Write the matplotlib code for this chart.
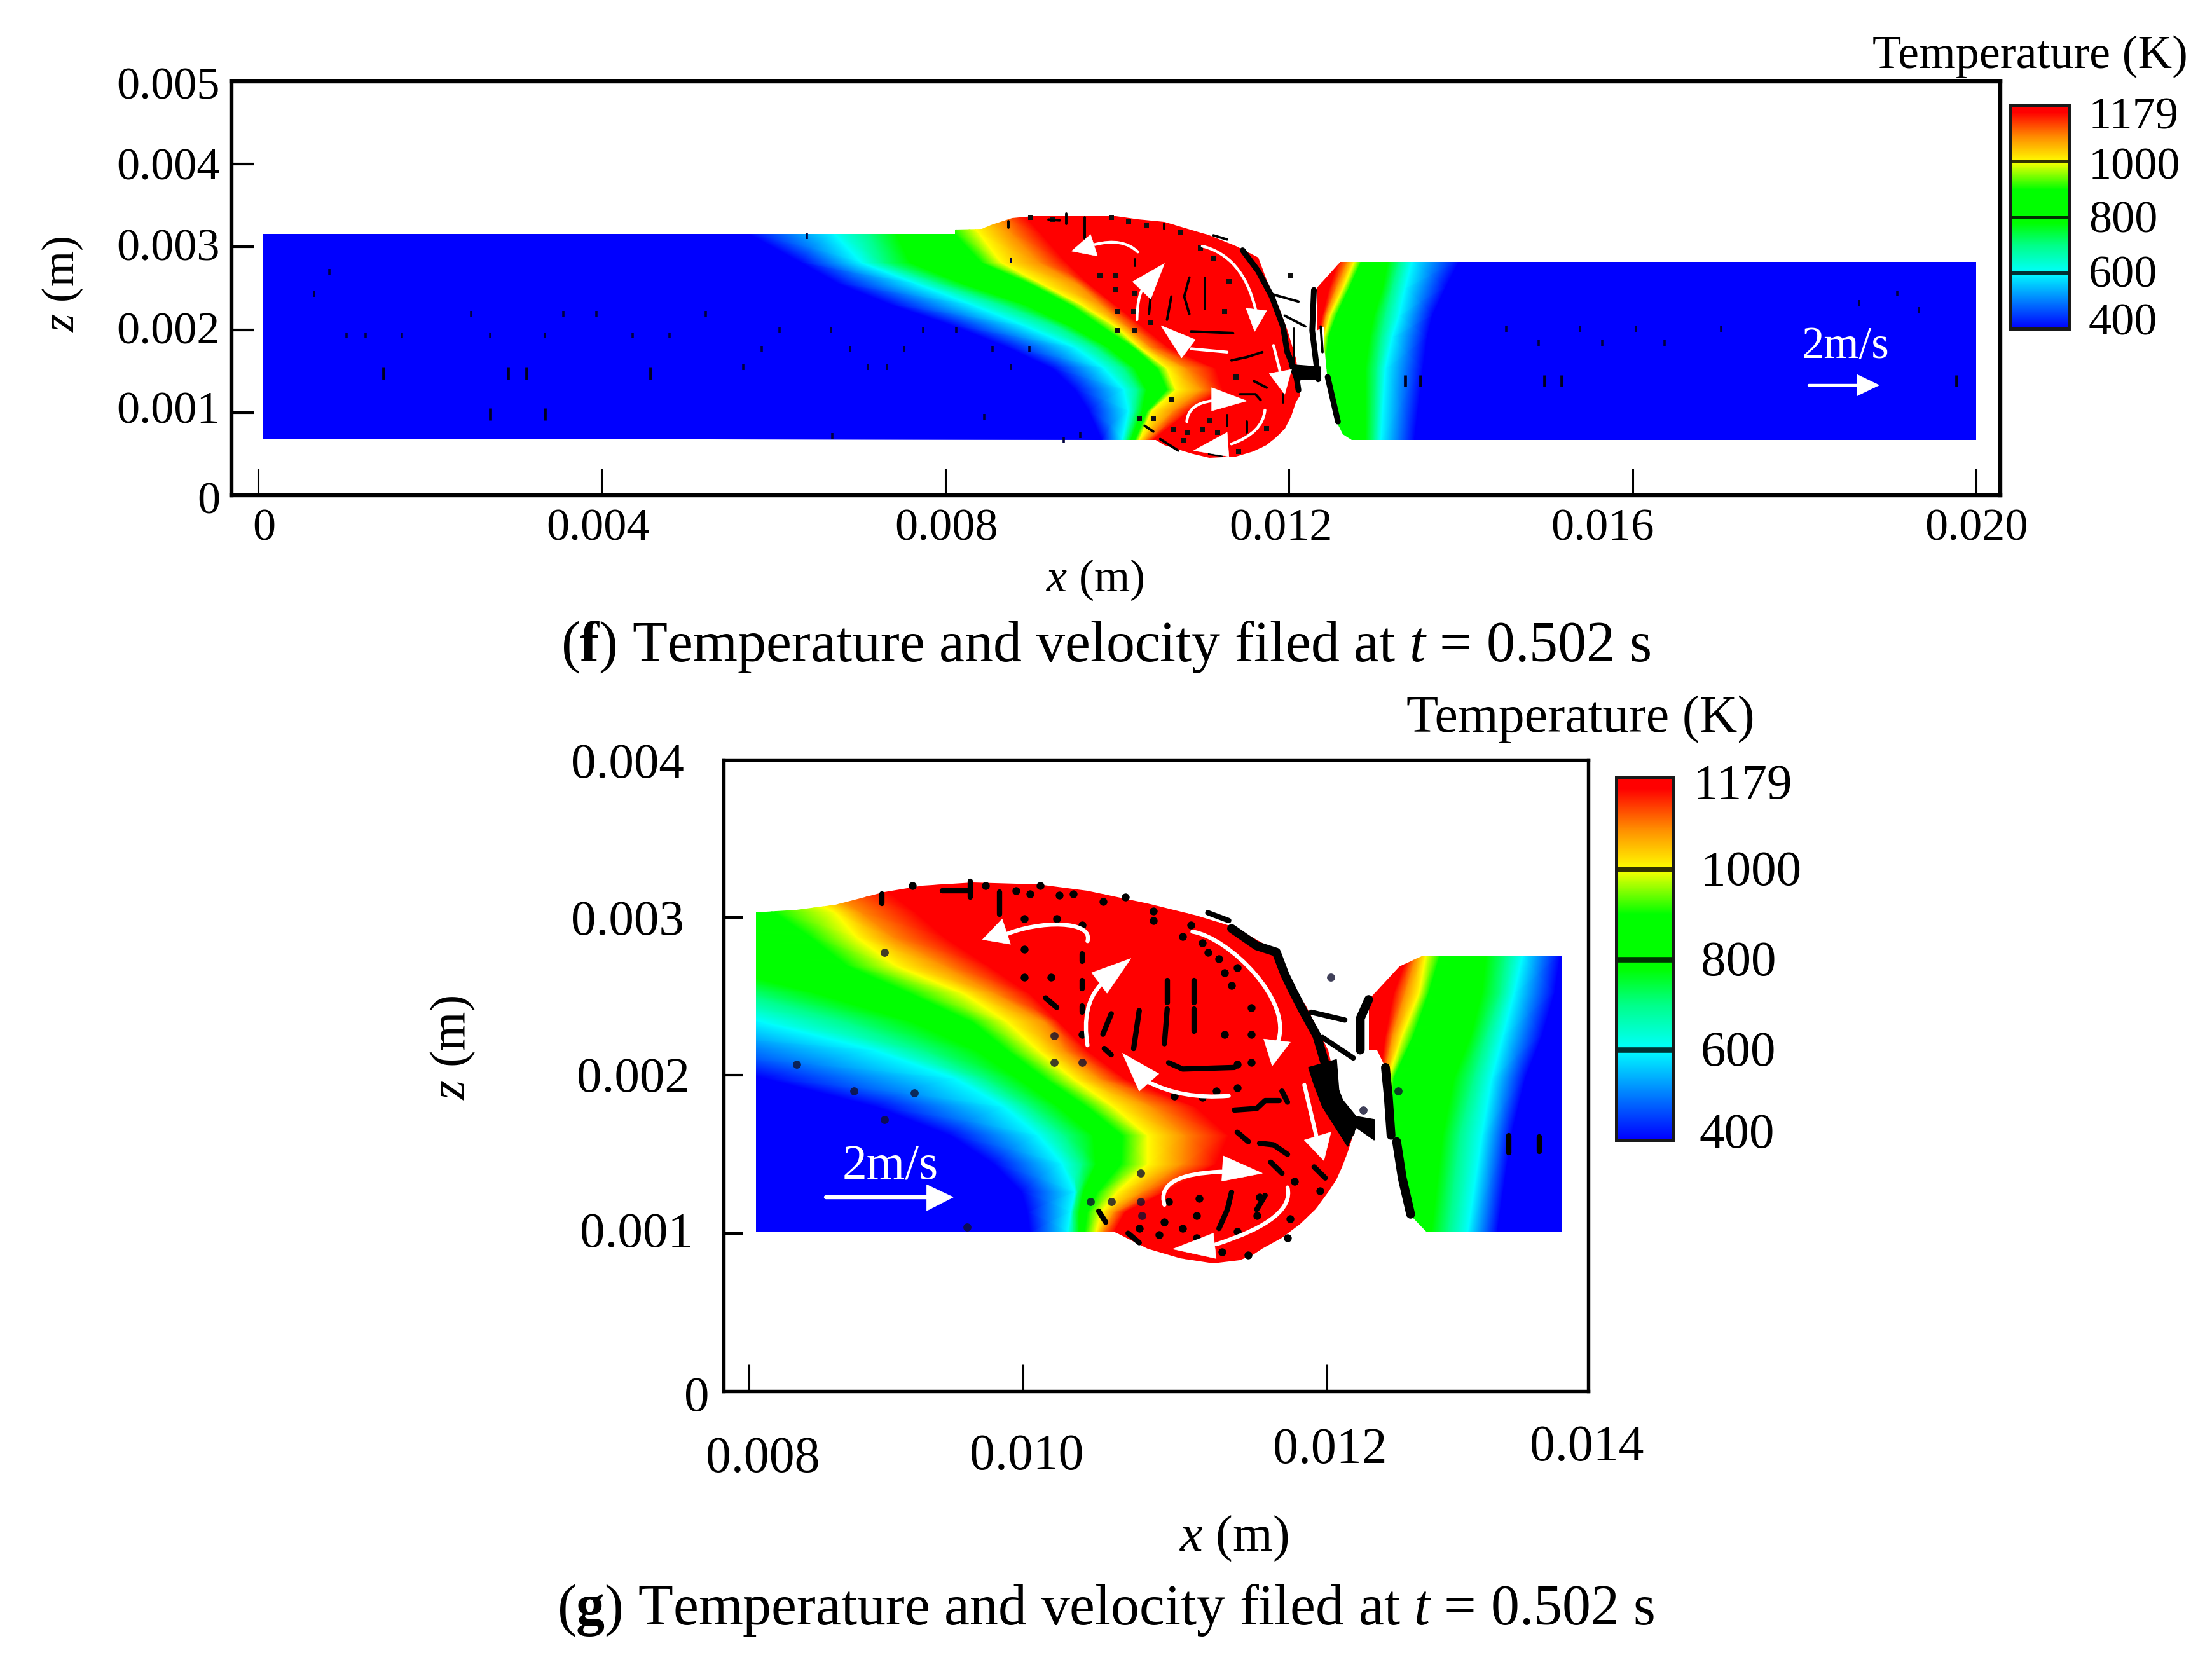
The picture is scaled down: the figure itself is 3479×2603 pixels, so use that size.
import numpy as np
import matplotlib
matplotlib.use("Agg")
import matplotlib.pyplot as plt
from matplotlib import colors
from matplotlib.patches import Polygon, PathPatch
from matplotlib.path import Path

plt.rcParams['font.family'] = ['Liberation Serif', 'DejaVu Serif']
plt.rcParams['mathtext.fontset'] = 'custom'
plt.rcParams['mathtext.rm'] = 'Liberation Serif'
plt.rcParams['mathtext.it'] = 'Liberation Serif:italic'
plt.rcParams['mathtext.bf'] = 'Liberation Serif:bold'

W, H = 3479, 2603
MM = 1e-3

# colour scale of both legends
cmap_levels = [400, 600, 700, 780, 900, 1000, 1090, 1179]
cmap_colors = ['#0000ff', '#00ffff', '#00ff88', '#00ff00', '#00ff00', '#ffff00', '#ff8c00', '#ff0000']
legend_ticks = [1000, 800, 600]

# all lengths below are in mm
# panel f, melt pool and left plate: x of each isotherm (cmap_levels) per z row
f_left_z = [3.40, 3.155, 2.81, 2.553, 2.297, 2.041, 1.785, 1.529, 1.273, 1.017, 0.671, 0.45]
f_left_x = [
    [5.40, 6.30, 6.70, 7.00, 7.90, 8.20, 8.60, 8.90],
    [5.72, 6.71, 7.12, 7.43, 8.11, 8.40, 8.78, 9.12],
    [6.32, 7.02, 7.28, 7.59, 8.42, 8.65, 9.10, 9.41],
    [6.76, 7.67, 7.95, 8.21, 8.99, 9.12, 9.54, 9.67],
    [7.38, 8.32, 8.68, 8.94, 9.46, 9.59, 9.82, 9.98],
    [8.11, 8.94, 9.30, 9.46, 9.82, 9.98, 10.11, 10.29],
    [8.73, 9.51, 9.75, 9.90, 10.19, 10.26, 10.39, 10.60],
    [9.25, 9.85, 10.08, 10.21, 10.47, 10.58, 10.81, 11.15],
    [9.51, 10.08, 10.24, 10.34, 10.58, 10.68, 10.99, 11.23],
    [9.67, 10.13, 10.21, 10.29, 10.35, 10.40, 10.65, 10.84],
    [9.82, 10.06, 10.11, 10.16, 10.21, 10.26, 10.34, 10.42],
    [9.90, 10.10, 10.15, 10.20, 10.25, 10.30, 10.35, 10.40],
]
f_right_z = [2.82, 2.50, 2.17, 1.91, 1.53, 0.67]
f_right_x = [
    [13.98, 13.43, 13.28, 13.15, 12.84, 12.76, 12.68, 12.57],
    [13.82, 13.35, 13.20, 13.09, 12.70, 12.63, 12.55, 12.47],
    [13.67, 13.28, 13.12, 12.99, 12.55, 12.48, 12.43, 12.39],
    [13.61, 13.20, 13.07, 12.94, 12.46, 12.41, 12.38, 12.34],
    [13.56, 13.12, 13.02, 12.89, 12.42, 12.37, 12.34, 12.32],
    [13.46, 13.07, 12.99, 12.89, 12.52, 12.37, 12.34, 12.32],
]
f_pool_outline = [(0.06, 3.155), (8.11, 3.16), (8.11, 3.21), (8.42, 3.22), (8.55, 3.27), (8.78, 3.35), (9.10, 3.38),
                  (9.93, 3.38), (10.24, 3.33), (10.55, 3.30), (11.07, 3.14), (11.38, 3.01), (11.64, 2.87), (11.74, 2.60),
                  (11.87, 2.30), (11.98, 1.99), (12.08, 1.66), (12.13, 1.32), (12.12, 1.20), (12.08, 1.12), (12.03, 0.96),
                  (11.95, 0.81), (11.86, 0.71), (11.74, 0.61), (11.58, 0.53), (11.38, 0.47), (11.07, 0.45), (10.86, 0.51),
                  (10.55, 0.61), (10.45, 0.67), (0.06, 0.68)]
f_plate_outline = [(12.32, 2.50), (12.60, 2.82), (20.0, 2.82), (20.0, 0.67), (12.73, 0.67), (12.63, 0.74),
                   (12.55, 0.89), (12.45, 1.40), (12.41, 1.79), (12.41, 2.04), (12.32, 1.99)]
f_faint_x = [0.83, 0.65, 2.48, 3.55, 3.94, 5.21, 1.03, 1.25, 1.67, 2.70, 3.34, 4.36, 4.79, 5.65, 5.86,
             6.07, 6.67, 7.74, 8.13, 6.89, 7.52, 8.55, 8.98, 7.10, 7.32, 8.76, 6.39, 8.76, 8.45, 6.68, 9.38, 9.57,
             14.53, 14.91, 15.39, 15.65, 16.04, 16.37, 17.03, 19.08, 19.33, 18.64]
f_faint_z = [2.70, 2.43, 2.19, 2.19, 2.19, 2.19, 1.935, 1.935, 1.935, 1.935, 1.935, 1.935, 1.935, 1.55, 1.77,
             1.99, 1.99, 1.99, 1.99, 1.77, 1.77, 1.77, 1.77, 1.55, 1.55, 1.55, 3.13, 2.84, 0.95, 0.72, 0.67, 0.73,
             2.01, 1.84, 2.01, 1.84, 2.01, 1.84, 2.01, 2.44, 2.24, 2.32]
f_big_x = [1.46, 2.91, 3.12, 4.57, 2.70, 3.34, 13.35, 13.53, 14.97, 15.17, 19.77]
f_big_z = [1.47, 1.47, 1.47, 1.47, 0.98, 0.98, 1.38, 1.38, 1.38, 1.38, 1.38]
f_dots_x = [8.99, 9.25, 9.93, 10.13, 10.34, 10.73, 10.97, 11.12, 9.80, 9.98, 9.98, 10.21, 11.30, 11.25, 10.19, 10.00,
            10.39, 10.00, 10.21, 11.38, 11.07, 10.81, 10.65, 10.99, 10.42, 10.26, 10.63, 11.17, 10.78, 11.41, 11.74, 12.02]
f_dots_z = [3.36, 3.33, 3.36, 3.31, 3.26, 3.17, 2.99, 2.86, 2.66, 2.66, 2.48, 2.44, 2.58, 2.22, 2.22, 2.22,
            2.09, 1.99, 1.99, 1.43, 0.91, 0.76, 0.79, 0.79, 0.93, 0.93, 1.15, 0.76, 0.66, 0.53, 0.81, 2.66]
f_streaks = [
    [(9.62, 3.36), (9.62, 3.10)], [(9.41, 3.40), (9.41, 3.28)], [(9.20, 3.33), (9.33, 3.32)], [(8.73, 3.31), (8.73, 3.23)],
    [(10.55, 3.28), (10.55, 3.22)], [(11.12, 3.14), (11.28, 3.09)], [(10.21, 2.85), (10.21, 2.77)],
    [(10.84, 2.63), (10.78, 2.40), (10.84, 2.19)], [(11.02, 2.63), (11.02, 2.40)], [(11.02, 2.40), (11.02, 2.25)],
    [(10.63, 2.40), (10.58, 2.12)], [(10.39, 2.40), (10.37, 2.19)], [(10.86, 1.98), (11.35, 1.96)],
    [(11.33, 1.63), (11.51, 1.67), (11.69, 1.73)], [(11.59, 1.38), (11.74, 1.30)],
    [(11.43, 1.22), (11.61, 1.22), (11.67, 1.15)], [(11.93, 1.22), (11.93, 1.12)], [(11.28, 0.97), (11.28, 0.84)],
    [(11.51, 0.89), (11.51, 0.76)], [(10.32, 0.84), (10.42, 0.77)], [(10.50, 0.68), (10.71, 0.54)], [(11.07, 0.50), (11.22, 0.48)],
    [(11.80, 2.43), (12.11, 2.34)], [(11.95, 2.17), (12.19, 2.04)], [(12.06, 2.01), (12.06, 1.58)],
    [(12.37, 2.04), (12.39, 1.73)],
]
f_edges = [
    [(11.46, 2.96), (11.64, 2.71), (11.80, 2.40), (11.93, 2.04), (11.98, 1.73), (12.08, 1.48), (12.11, 1.27)],
    [(12.29, 2.48), (12.27, 1.99), (12.34, 1.40)], [(12.45, 1.43), (12.57, 0.89)],
]
f_blob = [(12.00, 1.58), (12.37, 1.55), (12.37, 1.40), (12.13, 1.40), (12.11, 1.27)]
f_arrows = [
    ([(10.24, 2.94), (10.03, 3.05), (9.74, 3.03)], [(9.47, 2.95), (9.69, 3.15), (9.77, 2.89)]),
    ([(10.23, 2.12), (10.26, 2.40), (10.34, 2.55)], [(10.55, 2.80), (10.18, 2.58), (10.39, 2.37)]),
    ([(10.99, 3.01), (11.38, 2.76), (11.61, 2.25)], [(11.60, 1.98), (11.50, 2.26), (11.74, 2.23)]),
    ([(11.28, 1.73), (10.86, 1.77)], [(10.51, 2.05), (10.91, 1.88), (10.75, 1.66)]),
    ([(11.82, 1.81), (11.90, 1.48)], [(11.95, 1.22), (11.77, 1.47), (12.03, 1.52)]),
    ([(10.81, 0.89), (10.89, 1.06), (11.10, 1.14)], [(11.51, 1.14), (11.10, 1.30), (11.10, 1.02)]),
    ([(11.72, 1.03), (11.61, 0.79), (11.33, 0.62)], [(10.89, 0.54), (11.28, 0.76), (11.30, 0.47)]),
    ([(18.05, 1.33), (18.61, 1.33)], [(18.87, 1.33), (18.61, 1.46), (18.61, 1.20)]),
]

# panel g, same reading
g_left_z = [3.233, 3.027, 2.874, 2.694, 2.515, 2.335, 2.156, 1.977, 1.797, 1.618, 1.438, 1.259, 1.133, 1.007, 0.774]
g_left_x = [
    [2.00, 3.96, 4.74, 5.33, 7.68, 8.19, 8.46, 8.89],
    [3.10, 4.82, 5.52, 6.11, 8.19, 8.62, 8.81, 9.20],
    [3.83, 5.55, 6.24, 6.85, 8.44, 8.77, 9.03, 9.40],
    [4.69, 6.41, 7.10, 7.70, 8.70, 9.05, 9.40, 9.71],
    [5.55, 7.27, 7.97, 8.50, 9.16, 9.54, 9.77, 10.01],
    [6.41, 8.11, 8.71, 9.18, 9.60, 9.85, 10.12, 10.22],
    [7.27, 8.91, 9.26, 9.63, 9.85, 10.07, 10.26, 10.42],
    [8.13, 9.48, 9.69, 9.93, 10.12, 10.32, 10.51, 10.69],
    [8.92, 9.83, 10.01, 10.22, 10.42, 10.61, 10.89, 11.20],
    [9.44, 10.07, 10.26, 10.46, 10.67, 10.85, 11.12, 11.43],
    [9.75, 10.24, 10.38, 10.48, 10.66, 10.85, 11.10, 11.34],
    [9.95, 10.33, 10.35, 10.39, 10.49, 10.63, 10.81, 10.97],
    [9.99, 10.30, 10.32, 10.36, 10.42, 10.52, 10.61, 10.69],
    [10.01, 10.28, 10.32, 10.36, 10.40, 10.48, 10.53, 10.61],
    [9.99, 10.26, 10.30, 10.34, 10.38, 10.44, 10.50, 10.57],
]
g_right_z = [2.76, 2.52, 2.25, 1.98, 1.62, 1.01]
g_right_x = [
    [13.80, 13.53, 13.41, 13.27, 12.94, 12.84, 12.77, 12.71],
    [13.76, 13.47, 13.37, 13.24, 12.86, 12.79, 12.69, 12.61],
    [13.67, 13.39, 13.27, 13.16, 12.75, 12.67, 12.60, 12.55],
    [13.55, 13.31, 13.18, 13.04, 12.61, 12.57, 12.54, 12.51],
    [13.45, 13.24, 13.08, 12.96, 12.59, 12.57, 12.55, 12.53],
    [13.35, 13.14, 13.00, 12.88, 12.68, 12.57, 12.55, 12.53],
]
g_pool_outline = [(8.05, 3.03), (8.34, 3.05), (8.62, 3.08), (8.97, 3.16), (9.24, 3.20), (9.60, 3.22), (10.07, 3.21),
                  (10.42, 3.17), (10.85, 3.09), (11.20, 3.01), (11.47, 2.94), (11.75, 2.80), (11.83, 2.64), (11.98, 2.44),
                  (12.14, 2.16), (12.22, 1.87), (12.32, 1.62), (12.28, 1.52), (12.24, 1.42), (12.20, 1.34), (12.14, 1.26),
                  (12.05, 1.15), (11.94, 1.06), (11.81, 0.97), (11.67, 0.90), (11.60, 0.86), (11.51, 0.83), (11.32, 0.81),
                  (11.08, 0.84), (10.85, 0.90), (10.61, 1.01), (8.05, 1.01)]
g_plate_outline = [(12.43, 2.48), (12.65, 2.69), (12.82, 2.76), (13.81, 2.76), (13.81, 1.01), (12.84, 1.01), (12.71, 1.13),
                   (12.63, 1.44), (12.59, 1.80), (12.55, 2.05), (12.49, 2.16), (12.43, 2.16)]
g_faint_x = [8.34, 8.75, 9.18, 8.97, 8.97, 10.18, 10.38, 10.18, 10.80, 10.44, 10.59, 10.80, 10.81, 12.16, 12.64, 12.39, 9.56]
g_faint_z = [2.07, 1.90, 1.89, 1.72, 2.78, 2.08, 2.08, 2.25, 1.38, 1.20, 1.20, 1.20, 1.11, 2.62, 1.90, 1.78, 1.04]
g_dots_x = [9.97, 9.97, 10.16, 10.20, 9.97, 10.38, 10.38, 11.40, 11.59, 11.59, 11.45, 11.40, 11.49, 11.04, 11.24, 11.34, 11.49,
            11.59, 11.49, 11.90, 11.65, 11.22, 11.00, 11.20, 10.97, 10.79, 11.87, 11.63, 11.49, 11.10, 10.93, 11.20, 11.38,
            11.57, 11.85, 12.08, 10.89, 10.89, 10.69, 10.53, 10.32, 10.22, 10.01, 9.91, 9.69, 10.08, 9.17, 11.10, 11.24, 11.28,
            11.36, 11.16]
g_dots_z = [2.80, 2.62, 2.62, 2.99, 2.99, 2.95, 2.26, 2.26, 2.26, 2.43, 2.57, 2.65, 2.68, 1.87, 1.86, 1.90, 1.92,
            2.08, 2.07, 1.33, 1.23, 1.22, 1.20, 1.11, 1.07, 1.03, 1.09, 1.11, 1.01, 1.03, 0.99, 0.97, 0.88,
            0.86, 0.97, 1.27, 3.04, 2.98, 3.13, 3.10, 3.15, 3.14, 3.15, 3.17, 3.20, 3.20, 3.20, 2.88, 2.84, 2.78,
            2.74, 2.95]
g_streaks = [
    [(10.38, 2.77), (10.38, 2.72)], [(10.38, 2.60), (10.38, 2.55)], [(10.38, 2.44), (10.38, 2.40)], [(10.12, 2.49), (10.20, 2.43)],
    [(10.54, 2.17), (10.59, 2.13)], [(11.00, 2.08), (11.10, 2.04), (11.47, 2.05)],
    [(11.47, 1.78), (11.63, 1.79), (11.69, 1.84), (11.79, 1.84)], [(11.81, 1.90), (11.85, 1.83)], [(11.49, 1.64), (11.57, 1.58)],
    [(11.65, 1.57), (11.75, 1.56), (11.85, 1.50)], [(11.73, 1.45), (11.81, 1.38)], [(12.04, 1.42), (12.12, 1.35)],
    [(11.45, 1.26), (11.42, 1.15), (11.36, 1.03)], [(10.99, 2.60), (10.99, 2.46)], [(11.18, 2.60), (11.18, 2.46)],
    [(10.99, 2.42), (10.97, 2.20)], [(11.18, 2.42), (11.18, 2.28)], [(10.79, 2.41), (10.75, 2.17)], [(10.59, 2.39), (10.53, 2.26)],
    [(9.79, 3.16), (9.79, 3.02)], [(9.38, 3.17), (9.58, 3.17)], [(9.58, 3.23), (9.58, 3.13)], [(8.95, 3.15), (8.95, 3.09)],
    [(11.28, 3.03), (11.43, 2.98)], [(11.63, 1.15), (11.69, 1.24)], [(10.71, 1.00), (10.79, 0.94)], [(10.50, 1.14), (10.55, 1.07)],
    [(13.65, 1.61), (13.65, 1.52)], [(13.43, 1.62), (13.43, 1.51)],
    [(12.02, 2.40), (12.26, 2.35)], [(12.10, 2.24), (12.32, 2.11)],
]
g_edges = [
    [(11.45, 2.93), (11.63, 2.82), (11.77, 2.78), (11.83, 2.64), (11.89, 2.53), (11.96, 2.41), (12.06, 2.25), (12.14, 2.01),
     (12.22, 1.83), (12.30, 1.64)],
    [(12.43, 2.48), (12.37, 2.36), (12.37, 2.16)], [(12.55, 2.05), (12.57, 1.87), (12.59, 1.62)],
    [(12.63, 1.58), (12.67, 1.35), (12.73, 1.12)],
]
g_blob = [(12.00, 2.05), (12.20, 2.10), (12.22, 1.87), (12.34, 1.74), (12.47, 1.72), (12.47, 1.59), (12.34, 1.67), (12.28, 1.55),
          (12.10, 1.80), (12.04, 1.94)]
g_arrows = [
    ([(10.42, 2.85), (10.34, 2.94), (10.10, 2.95), (9.83, 2.89)], [(9.67, 2.86), (9.81, 2.99), (9.87, 2.83)]),
    ([(10.42, 2.19), (10.42, 2.41), (10.51, 2.57)], [(10.73, 2.74), (10.45, 2.65), (10.56, 2.52)]),
    ([(11.17, 2.91), (11.47, 2.77), (11.73, 2.50), (11.78, 2.21)], [(11.74, 2.06), (11.68, 2.23), (11.87, 2.21)]),
    ([(11.43, 1.87), (11.12, 1.88), (10.85, 1.96)], [(10.67, 2.14), (10.93, 2.01), (10.79, 1.90)]),
    ([(11.97, 1.94), (12.06, 1.60)], [(12.11, 1.46), (11.97, 1.59), (12.16, 1.64)]),
    ([(10.97, 1.18), (11.04, 1.33), (11.38, 1.39)], [(11.67, 1.38), (11.39, 1.49), (11.38, 1.33)]),
    ([(11.85, 1.29), (11.75, 1.10), (11.34, 0.93)], [(11.03, 0.90), (11.32, 1.00), (11.34, 0.84)]),
    ([(8.55, 1.228), (9.28, 1.228)], [(9.46, 1.228), (9.27, 1.308), (9.27, 1.142)]),
]

f_xticks = [0, 0.004, 0.008, 0.012, 0.016, 0.020]
f_zticks = [0.001, 0.002, 0.003, 0.004]
g_xticks = [0.008, 0.00996, 0.01213]
g_zticks = [0.001, 0.002, 0.003]

cmap = colors.LinearSegmentedColormap.from_list(
    'temp', [((l - 400) / 779, c) for l, c in zip(cmap_levels, cmap_colors)], N=1024)
norm = colors.Normalize(400, 1179)


def px_axes(fig, left, top, right, bottom):
    return fig.add_axes([left / W, 1 - bottom / H, (right - left) / W, (bottom - top) / H])


def px_text(fig, x, y, s, size, ha='center', rotation=0):
    # va center sits a little high for this font
    if rotation == 0:
        y = y + 6
    fig.text(x / W, 1 - y / H, s, fontsize=size, ha=ha, va='center', rotation=rotation, color='black')


def draw_field(ax, z_rows, x_rows, levels, outline):
    x = np.array(x_rows) * MM
    z = np.repeat(np.array(z_rows)[:, None] * MM, x.shape[1], axis=1)
    t = np.tile(levels, (x.shape[0], 1))
    mesh = ax.pcolormesh(x, z, t, cmap=cmap, norm=norm, shading='gouraud', zorder=2)
    mesh.set_clip_path(Polygon(np.array(outline) * MM, transform=ax.transData))


def curve_path(pts):
    p = np.array(pts, dtype=float) * MM
    if len(p) == 2:
        return Path(p, [Path.MOVETO, Path.LINETO])
    if len(p) == 3:
        ctrl = 2 * p[1] - 0.5 * (p[0] + p[2])
        return Path([p[0], ctrl, p[2]], [Path.MOVETO, Path.CURVE3, Path.CURVE3])
    c1 = (-5 * p[0] + 18 * p[1] - 9 * p[2] + 2 * p[3]) / 6
    c2 = (2 * p[0] - 9 * p[1] + 18 * p[2] - 5 * p[3]) / 6
    return Path([p[0], c1, c2, p[3]], [Path.MOVETO, Path.CURVE4, Path.CURVE4, Path.CURVE4])


def draw_arrows(ax, arrows, lw):
    for line, head in arrows:
        ax.add_patch(PathPatch(curve_path(line), fc='none', ec='white', lw=lw, zorder=6, capstyle='round'))
        ax.add_patch(Polygon(np.array(head) * MM, fc='white', ec='white', lw=0.5, zorder=6))


def draw_lines(ax, lines, lw):
    for line in lines:
        p = np.array(line) * MM
        ax.plot(p[:, 0], p[:, 1], color='black', lw=lw, zorder=4, solid_capstyle='round')


def style_axes(ax, xlim, zlim, xticks, zticks, spine, xlen, zlen):
    ax.set_xlim(xlim)
    ax.set_ylim(zlim)
    ax.set_xticks(xticks)
    ax.set_yticks(zticks)
    ax.tick_params(axis='x', direction='in', length=xlen, width=2.2, labelbottom=False)
    ax.tick_params(axis='y', direction='in', length=zlen, width=3, labelleft=False)
    for s in ax.spines.values():
        s.set_linewidth(spine)
        s.set_zorder(8)


def draw_legend(fig, left, top, right, bottom, border, line):
    cax = px_axes(fig, left, top, right, bottom)
    grad = np.linspace(400, 1204, 512)[:, None]
    cax.imshow(grad, origin='lower', extent=[0, 1, 400, 1204], aspect='auto', cmap=cmap, norm=norm)
    cax.hlines(legend_ticks, 0, 1, color='black', lw=line, alpha=0.8)
    cax.set_xticks([])
    cax.set_yticks([])
    for s in cax.spines.values():
        s.set_linewidth(border)
        s.set_color('#1a1a1a')


fig = plt.figure(figsize=(W / 100, H / 100), dpi=100, facecolor='white')

left_levels = [400, 400, 600, 700, 780, 900, 1000, 1090, 1179, 1179]
right_levels = left_levels[::-1]


def with_ends(rows, first, last):
    return [[first] + list(r) + [last] for r in rows]


# panel f
ax = px_axes(fig, 363.5, 128, 3146, 779)
draw_field(ax, f_left_z, with_ends(f_left_x, 0.0, 12.6), left_levels, f_pool_outline)
draw_field(ax, f_right_z, [[12.0] + r[::-1] + [20.1] for r in f_right_x], right_levels, f_plate_outline)
ax.vlines(np.array(f_faint_x) * MM, (np.array(f_faint_z) - 0.035) * MM, (np.array(f_faint_z) + 0.035) * MM,
          color='#000040', lw=2.6, zorder=3)
ax.vlines(np.array(f_big_x) * MM, (np.array(f_big_z) - 0.07) * MM, (np.array(f_big_z) + 0.07) * MM,
          color='#000020', lw=3.4, zorder=3)
ax.scatter(np.array(f_dots_x) * MM, np.array(f_dots_z) * MM, s=30, marker='s', color='#111111', lw=0, zorder=3)
draw_lines(ax, f_streaks, 2.8)
draw_lines(ax, f_edges, 6.5)
ax.add_patch(Polygon(np.array(f_blob) * MM, fc='black', ec='black', lw=1, zorder=4))
draw_arrows(ax, f_arrows, 3.2)
ax.text(18.48 * MM, 1.79 * MM, '2m/s', color='white', fontsize=51, ha='center', va='center', zorder=7)
style_axes(ax, (-0.315 * MM, 20.28 * MM), (0, 0.005), f_xticks, f_zticks, 4.6, 30, 25)

# panel g
ax = px_axes(fig, 1137.5, 1194.6, 2498, 2188)
draw_field(ax, g_left_z, with_ends(g_left_x, 1.0, 12.6), left_levels, g_pool_outline)
draw_field(ax, g_right_z, [[12.0] + r[::-1] + [14.0] for r in g_right_x], right_levels, g_plate_outline)
ax.scatter(np.array(g_faint_x) * MM, np.array(g_faint_z) * MM, s=85, marker='o', color='#101030', alpha=0.8, lw=0, zorder=3)
ax.scatter(np.array(g_dots_x) * MM, np.array(g_dots_z) * MM, s=80, marker='o', color='black', lw=0, zorder=3)
draw_lines(ax, g_streaks, 6.0)
draw_lines(ax, g_edges, 10.0)
ax.add_patch(Polygon(np.array(g_blob) * MM, fc='black', ec='black', lw=1, zorder=4))
draw_arrows(ax, g_arrows, 4.6)
ax.text(9.01 * MM, 1.42 * MM, '2m/s', color='white', fontsize=56, ha='center', va='center', zorder=7)
style_axes(ax, (7.816 * MM, 14.0 * MM), (0, 0.004), g_xticks, g_zticks, 3.9, 30, 22)

draw_legend(fig, 3162, 165, 3255, 517, 3.6, 3.6)
draw_legend(fig, 2542, 1222, 2632, 1793, 3.6, 6.2)

# panel f text
for s, y in zip(['0.005', '0.004', '0.003', '0.002', '0.001', '0'], [132, 259, 386, 517, 642, 784]):
    px_text(fig, 346, y, s, 52, ha='right')
for s, x in zip(['0', '0.004', '0.008', '0.012', '0.016', '0.020'], [415, 941, 1489, 2015, 2520, 3108]):
    px_text(fig, x, 826, s, 52)
px_text(fig, 1722, 906, r'$\mathit{x}$ (m)', 52)
px_text(fig, 98, 447, r'$\mathit{z}$ (m)', 52, rotation=90)
px_text(fig, 2945, 83, 'Temperature (K)', 53.5, ha='left')
for s, y in zip(['1179', '1000', '800', '600', '400'], [179, 258, 342, 428, 503]):
    px_text(fig, 3285, y, s, 52, ha='left')
px_text(fig, 1739, 1012, r'($\mathbf{f}$) Temperature and velocity filed at $\mathit{t}$ = 0.502 s', 64.8)

# panel g text
for s, x, y in zip(['0.004', '0.003', '0.002', '0.001', '0'], [987, 987, 996, 1001, 1096], [1198, 1445, 1692, 1936, 2194]):
    px_text(fig, x, y, s, 57)
for s, x, y in zip(['0.008', '0.010', '0.012', '0.014'], [1200, 1615, 2092, 2496], [2290, 2285, 2276, 2272]):
    px_text(fig, x, y, s, 57.5)
px_text(fig, 1941, 2414, r'$\mathit{x}$ (m)', 58)
px_text(fig, 712, 1648, r'$\mathit{z}$ (m)', 57, rotation=90)
px_text(fig, 2486, 1125, 'Temperature (K)', 59)
for s, x, y in zip(['1179', '1000', '800', '600', '400'], [2663, 2675, 2675, 2675, 2672], [1231, 1367, 1509, 1651, 1780]):
    px_text(fig, x, y, s, 57, ha='left')
px_text(fig, 1739, 2527, r'($\mathbf{g}$) Temperature and velocity filed at $\mathit{t}$ = 0.502 s', 64.7)

fig.savefig('out.png', dpi=100)
